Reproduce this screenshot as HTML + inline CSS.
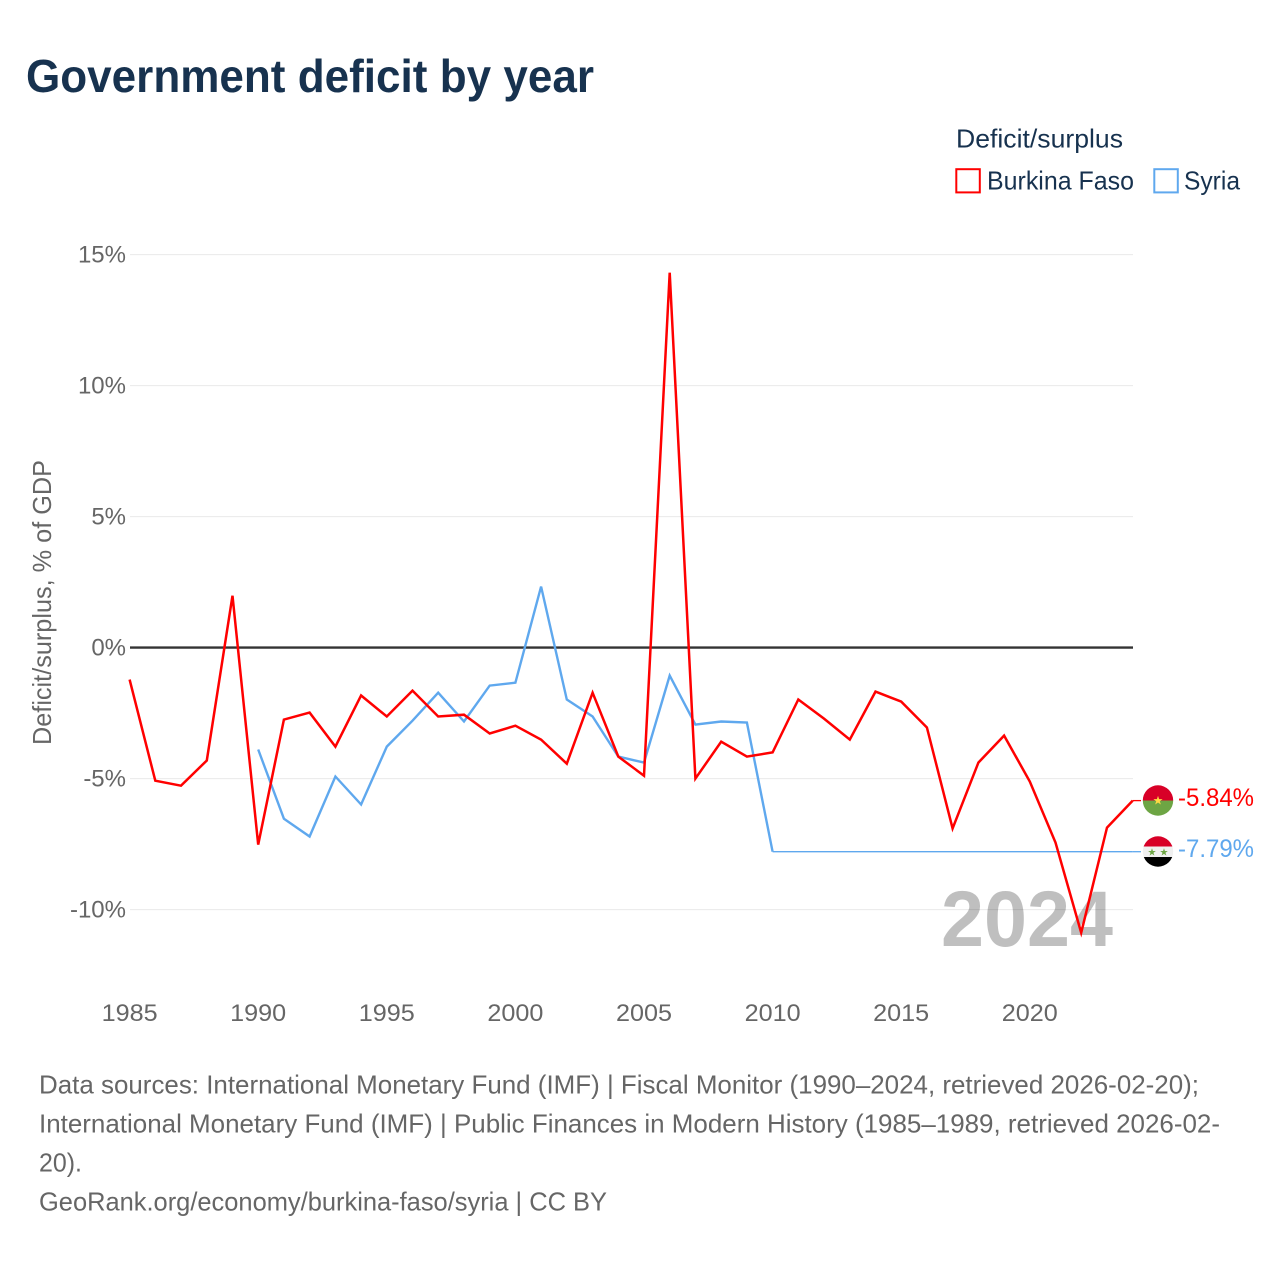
<!DOCTYPE html>
<html lang="en">
<head>
<meta charset="utf-8">
<title>Government deficit by year</title>
<style>
html,body{margin:0;padding:0;background:#fff;}
svg{display:block;font-family:"Liberation Sans",sans-serif;}
</style>
</head>
<body>
<svg id="chart" xmlns="http://www.w3.org/2000/svg" width="1280" height="1280" viewBox="0 0 1280 1280">
  <defs>
    <clipPath id="flag-clip-bf"><circle cx="1158" cy="800.5" r="15.2"/></clipPath>
    <clipPath id="flag-clip-sy"><circle cx="1158" cy="851.5" r="15.2"/></clipPath>
  </defs>
  <rect x="0" y="0" width="1280" height="1280" fill="#fff"/>
  <text x="26" y="92" font-size="46" font-weight="700" fill="#17324f" textLength="568" lengthAdjust="spacingAndGlyphs">Government deficit by year</text>

  <g>
    <text x="956" y="147.5" font-size="26" fill="#17324f" textLength="167" lengthAdjust="spacingAndGlyphs">Deficit/surplus</text>
    <g>
      <rect x="956.3" y="169.2" width="23.5" height="23.2" fill="#fff" stroke="#ff0000" stroke-width="2"/>
      <text x="987" y="189.5" font-size="26" fill="#17324f" textLength="147" lengthAdjust="spacingAndGlyphs">Burkina Faso</text>
    </g>
    <g>
      <rect x="1154.3" y="169.2" width="23.5" height="23.2" fill="#fff" stroke="#5fa8ee" stroke-width="2"/>
      <text x="1184" y="189.5" font-size="26" fill="#17324f" textLength="56" lengthAdjust="spacingAndGlyphs">Syria</text>
    </g>
  </g>

  <text transform="translate(51,745) rotate(-90)" x="0" y="0" font-size="26" fill="#666" textLength="285" lengthAdjust="spacingAndGlyphs">Deficit/surplus, % of GDP</text>

  <g id="grid"></g>
  <g id="y-ticks"></g>
  <g id="x-ticks"></g>

  <text x="941" y="946" font-size="79" font-weight="700" fill="#000" fill-opacity="0.25" textLength="172" lengthAdjust="spacingAndGlyphs">2024</text>

  <g id="series"></g>

  <g>
    <g clip-path="url(#flag-clip-bf)">
      <rect x="1142" y="785" width="32" height="15.5" fill="#d80027"/>
      <rect x="1142" y="800.5" width="32" height="16" fill="#6da544"/>
    </g>
    <text x="1158" y="804.5" font-size="12" text-anchor="middle" fill="#ffda44">★</text>
  </g>
  <g>
    <g clip-path="url(#flag-clip-sy)">
      <rect x="1142" y="836" width="32" height="10.5" fill="#d80027"/>
      <rect x="1142" y="846.5" width="32" height="10.5" fill="#f0f0f0"/>
      <rect x="1142" y="857" width="32" height="11" fill="#000"/>
    </g>
    <text x="1152" y="855.5" font-size="10" text-anchor="middle" fill="#6da544">★</text>
    <text x="1164" y="855.5" font-size="10" text-anchor="middle" fill="#6da544">★</text>
  </g>
  <text x="1178" y="806" font-size="25" fill="#ff0000" textLength="76" lengthAdjust="spacingAndGlyphs">-5.84%</text>
  <text x="1178" y="857" font-size="25" fill="#5fa8ee" textLength="76" lengthAdjust="spacingAndGlyphs">-7.79%</text>

  <g>
    <text x="39" y="1093.5" font-size="26" fill="#666" textLength="1160" lengthAdjust="spacingAndGlyphs">Data sources: International Monetary Fund (IMF) | Fiscal Monitor (1990–2024, retrieved 2026-02-20);</text>
    <text x="39" y="1132.5" font-size="26" fill="#666" textLength="1181" lengthAdjust="spacingAndGlyphs">International Monetary Fund (IMF) | Public Finances in Modern History (1985–1989, retrieved 2026-02-</text>
    <text x="39" y="1171.5" font-size="26" fill="#666" textLength="43" lengthAdjust="spacingAndGlyphs">20).</text>
    <text x="39" y="1210.5" font-size="26" fill="#666" textLength="568" lengthAdjust="spacingAndGlyphs">GeoRank.org/economy/burkina-faso/syria | CC BY</text>
  </g>
</svg>
<script>
const years = [1985,1986,1987,1988,1989,1990,1991,1992,1993,1994,1995,1996,1997,1998,1999,2000,2001,2002,2003,2004,2005,2006,2007,2008,2009,2010,2011,2012,2013,2014,2015,2016,2017,2018,2019,2020,2021,2022,2023,2024];
const burkinaFaso = [-1.22,-5.08,-5.27,-4.31,1.98,-7.52,-2.75,-2.48,-3.78,-1.83,-2.63,-1.64,-2.63,-2.56,-3.28,-2.98,-3.51,-4.43,-1.72,-4.16,-4.89,14.31,-5.0,-3.59,-4.16,-4.0,-1.98,-2.71,-3.51,-1.68,-2.06,-3.05,-6.9,-4.39,-3.36,-5.11,-7.44,-10.88,-6.87,-5.84];
const syria = [null,null,null,null,null,-3.89,-6.53,-7.21,-4.92,-5.99,-3.78,-2.79,-1.72,-2.82,-1.45,-1.34,2.33,-1.98,-2.63,-4.16,-4.39,-1.07,-2.94,-2.82,-2.86,-7.79,-7.79,-7.79,-7.79,-7.79,-7.79,-7.79,-7.79,-7.79,-7.79,-7.79,-7.79,-7.79,-7.79,-7.79];
const yTickValues = [15,10,5,0,-5,-10];
const yTickLabels = ['15%','10%','5%','0%','-5%','-10%'];
const xTickValues = [1985,1990,1995,2000,2005,2010,2015,2020];
const xTickLabels = ['1985','1990','1995','2000','2005','2010','2015','2020'];

const NS = 'http://www.w3.org/2000/svg';
const xScale = function (year) { return 129.6 + (year - 1985) * 25.72; };
const yScale = function (value) { return 647.6 - value * 26.2; };

function make(tag, attrs, parent) {
  const el = document.createElementNS(NS, tag);
  for (const k in attrs) { el.setAttribute(k, attrs[k]); }
  parent.appendChild(el);
  return el;
}

const grid = document.getElementById('grid');
const yTicksGroup = document.getElementById('y-ticks');
const xTicksGroup = document.getElementById('x-ticks');
const seriesGroup = document.getElementById('series');

yTickValues.forEach(function (v, i) {
  const zero = v === 0;
  const line = make('line', {x1: 130, x2: 1133, y1: yScale(v), y2: yScale(v), stroke: zero ? '#333' : '#e9e9e9', 'stroke-width': zero ? 2.4 : 1}, grid);
  
  
  const t = make('text', {x: 126, y: yScale(v) + 8, 'font-size': 24, 'text-anchor': 'end', fill: '#666'}, yTicksGroup);
  t.textContent = yTickLabels[i];
  
  
});

xTickValues.forEach(function (v, i) {
  const t = make('text', {x: xScale(v), y: 1021, 'font-size': 24, 'text-anchor': 'middle', fill: '#666', textLength: 56, lengthAdjust: 'spacingAndGlyphs'}, xTicksGroup);
  t.textContent = xTickLabels[i];
  
  
});

function drawSeries(values, color, name, width) {
  // Years repeating the final value are carried forward and drawn thin.
  const last = values[values.length - 1];
  let carryStart = values.length - 1;
  while (carryStart > 0 && values[carryStart - 1] === last) { carryStart--; }
  const solid = [];
  const carried = [];
  values.forEach(function (v, i) {
    if (v === null) { return; }
    const p = xScale(years[i]).toFixed(1) + ',' + yScale(v).toFixed(1);
    if (i <= carryStart) { solid.push(p); }
    if (i >= carryStart) { carried.push(p); }
  });
  const line = make('polyline', {points: solid.join(' '), fill: 'none', stroke: color, 'stroke-width': width, 'stroke-linejoin': 'miter'}, seriesGroup);
  
  
  if (carried.length > 1) {
    const flat = make('polyline', {points: carried.join(' '), fill: 'none', stroke: color, 'stroke-width': 1.3}, seriesGroup);
    
    
  }
  const tail = make('line', {x1: xScale(2024), x2: 1141, y1: yScale(last), y2: yScale(last), stroke: color, 'stroke-width': 1.3}, seriesGroup);
  
  
}

drawSeries(syria, '#5fa8ee', 'syria', 2.4);
drawSeries(burkinaFaso, '#ff0000', 'burkina-faso', 2.5);
</script>
</body>
</html>
